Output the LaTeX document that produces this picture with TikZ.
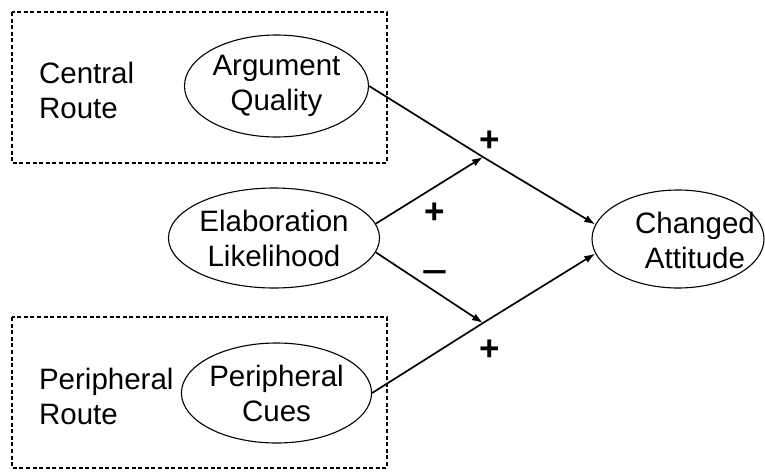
\documentclass[tikz,border=0pt]{standalone}
\usepackage{fontspec}
\setmainfont{Liberation Sans}
\usetikzlibrary{shapes.geometric,arrows.meta}

\begin{document}
\begin{tikzpicture}[x=0.5pt,y=-0.5pt,
		every node/.style={font=\fontsize{14.75}{17.5}\selectfont},
		factor/.style={ellipse, draw, line width=0.55pt, inner sep=0pt, align=center},
		route/.style={align=left, anchor=west},
		link/.style={line width=0.85pt, -{Latex[length=5.5pt, width=3.8pt]}},
		sign/.style={font=\fontsize{17.5}{20}\selectfont\bfseries}]
	\useasboundingbox (0,0) rectangle (765,471);
	
	% dashed route boxes
	\draw[dash pattern=on 2pt off 1.3pt, line width=0.6pt] (12,12) rectangle (387,163);
	\draw[dash pattern=on 2pt off 1.3pt, line width=0.6pt] (12,317) rectangle (387,468);
	
	% route labels
	\node[route] (central) at (32,90) {Central\\Route};
	\node[route] (peripheral) at (32,396) {Peripheral\\Route};
	
	% factors
	\node[factor, minimum width=92pt, minimum height=51pt] (aq) at (276.5,86) {Argument\\Quality};
	\node[factor, minimum width=91pt, minimum height=50pt] (el) at (274,238) {Elaboration\\Likelihood};
	\node[factor, minimum width=93pt, minimum height=50pt] (pc) at (276.5,393) {Peripheral\\Cues};
	\node[factor, minimum width=86pt, minimum height=49pt] (att) at (678,239) {};
	\node (atttext) at (695,240) [align=center] {Changed\\Attitude};
	
	% junctions
	\coordinate (jtop) at (483,157);
	\coordinate (jbot) at (483,323);
	
	% paths
	\draw[link] (aq.east) -- (jtop) -- (att.170);
	\draw[link] (el.8) -- (jtop);
	\draw[link] (el.-8) -- (jbot);
	\draw[link] (pc.east) -- (jbot) -- (att.190);
	
	% signs
	\node[sign] (s1) at (490,141) {+};
	\node[sign] (s2) at (435,213) {+};
	\node[sign, font=\fontsize{23}{26}\selectfont] (s3) at (435,279) {−};
	\node[sign] (s4) at (490,350) {+};
	
\end{tikzpicture}
\end{document}
